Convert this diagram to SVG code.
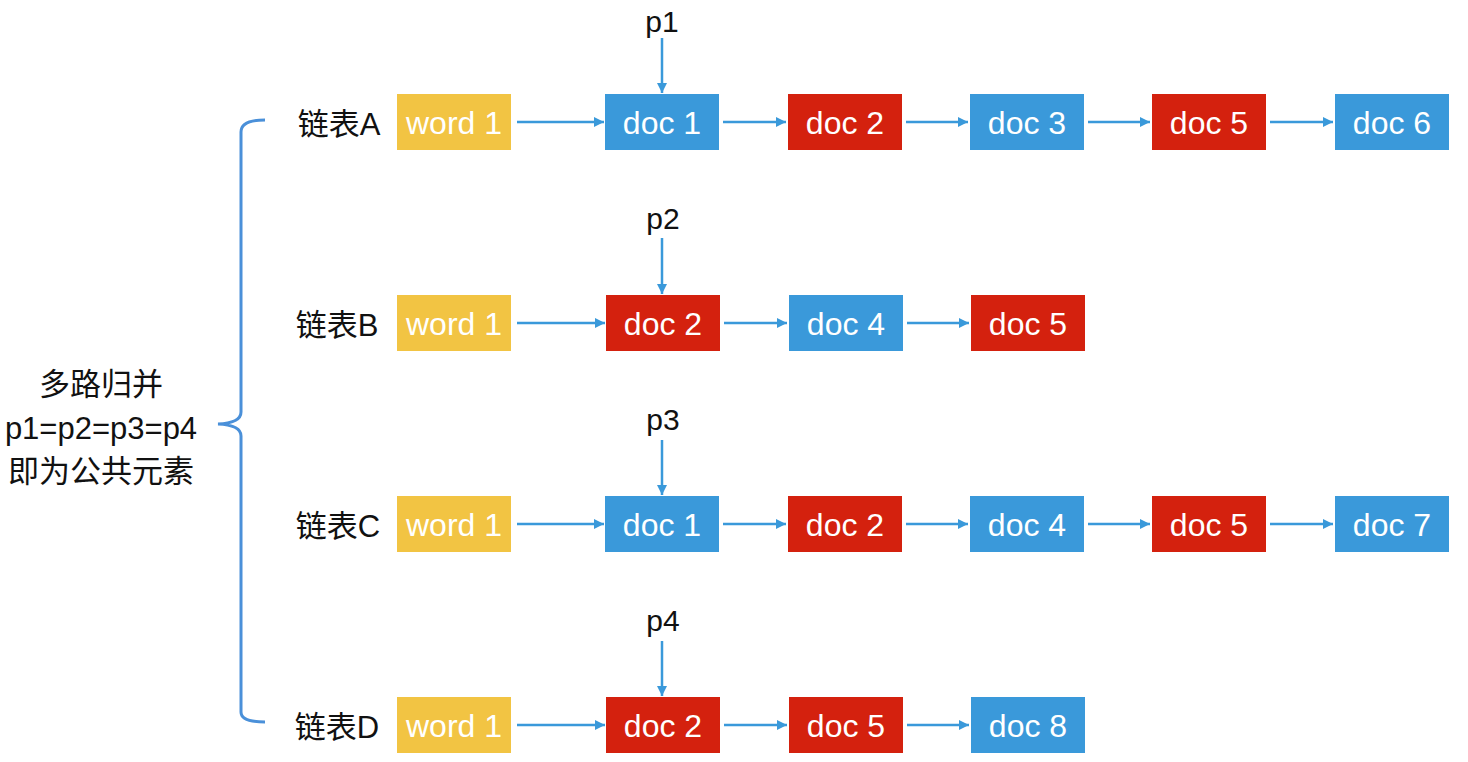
<svg xmlns="http://www.w3.org/2000/svg" width="1468" height="762" viewBox="0 0 1468 762">
<defs>
<marker id="ah" viewBox="0 0 10 10" refX="10" refY="5" markerWidth="10" markerHeight="10" markerUnits="userSpaceOnUse" orient="auto">
<path d="M0,0 L10,5 L0,10 Z" fill="#3A99DA"/>
</marker>
<style>
.y{fill:#F2C443}
.b{fill:#3A99DA}
.r{fill:#D4210E}
.t{font-family:"Liberation Sans","Noto Sans CJK SC",sans-serif;font-size:32px;fill:#fff;text-anchor:middle}
.k{font-family:"Liberation Sans","Noto Sans CJK SC",sans-serif;font-size:30px;fill:#111;text-anchor:middle}
.s{font-family:"Liberation Sans","Noto Sans CJK SC",sans-serif;font-size:31px;fill:#111;text-anchor:middle}
.c line{stroke:#3A99DA;stroke-width:2.5;marker-end:url(#ah)}
</style>
</defs>
<rect width="1468" height="762" fill="#fff"/>
<g id="brace"><path d="M265,120 Q241,120 241,132 L241,412 Q241,423 218,424 Q241,425 241,436 L241,712 Q241,722 265,722" fill="none" stroke="#4A90D9" stroke-width="3"/></g>
<g id="summary">
<text class="s" x="101" y="395">多路归并</text>
<text class="s" x="101" y="439">p1=p2=p3=p4</text>
<text class="s" x="101" y="482">即为公共元素</text>
</g>
<g id="labels">
<text class="s" x="339" y="135">链表A</text>
<text class="s" x="337" y="336">链表B</text>
<text class="s" x="338" y="537">链表C</text>
<text class="s" x="337" y="738">链表D</text>
<text class="k" x="662" y="32">p1</text>
<text class="k" x="663" y="229">p2</text>
<text class="k" x="663" y="430">p3</text>
<text class="k" x="663" y="631">p4</text>
</g>
<g id="rowA">
<g id="A0"><rect class="y" x="397" y="94" width="114" height="56"/><text class="t" x="454" y="134">word 1</text></g>
<g id="A1"><rect class="b" x="605" y="94" width="114" height="56"/><text class="t" x="662" y="134">doc 1</text></g>
<g id="A2"><rect class="r" x="788" y="94" width="114" height="56"/><text class="t" x="845" y="134">doc 2</text></g>
<g id="A3"><rect class="b" x="970" y="94" width="114" height="56"/><text class="t" x="1027" y="134">doc 3</text></g>
<g id="A4"><rect class="r" x="1152" y="94" width="114" height="56"/><text class="t" x="1209" y="134">doc 5</text></g>
<g id="A5"><rect class="b" x="1335" y="94" width="114" height="56"/><text class="t" x="1392" y="134">doc 6</text></g>
</g>
<g id="rowB">
<g id="B0"><rect class="y" x="397" y="295" width="114" height="56"/><text class="t" x="454" y="335">word 1</text></g>
<g id="B1"><rect class="r" x="606" y="295" width="114" height="56"/><text class="t" x="663" y="335">doc 2</text></g>
<g id="B2"><rect class="b" x="789" y="295" width="114" height="56"/><text class="t" x="846" y="335">doc 4</text></g>
<g id="B3"><rect class="r" x="971" y="295" width="114" height="56"/><text class="t" x="1028" y="335">doc 5</text></g>
</g>
<g id="rowC">
<g id="C0"><rect class="y" x="397" y="496" width="114" height="56"/><text class="t" x="454" y="536">word 1</text></g>
<g id="C1"><rect class="b" x="605" y="496" width="114" height="56"/><text class="t" x="662" y="536">doc 1</text></g>
<g id="C2"><rect class="r" x="788" y="496" width="114" height="56"/><text class="t" x="845" y="536">doc 2</text></g>
<g id="C3"><rect class="b" x="970" y="496" width="114" height="56"/><text class="t" x="1027" y="536">doc 4</text></g>
<g id="C4"><rect class="r" x="1152" y="496" width="114" height="56"/><text class="t" x="1209" y="536">doc 5</text></g>
<g id="C5"><rect class="b" x="1335" y="496" width="114" height="56"/><text class="t" x="1392" y="536">doc 7</text></g>
</g>
<g id="rowD">
<g id="D0"><rect class="y" x="397" y="697" width="114" height="56"/><text class="t" x="454" y="737">word 1</text></g>
<g id="D1"><rect class="r" x="606" y="697" width="114" height="56"/><text class="t" x="663" y="737">doc 2</text></g>
<g id="D2"><rect class="r" x="789" y="697" width="114" height="56"/><text class="t" x="846" y="737">doc 5</text></g>
<g id="D3"><rect class="b" x="971" y="697" width="114" height="56"/><text class="t" x="1028" y="737">doc 8</text></g>
</g>
<g id="connectors" class="c">
<line x1="517" y1="122" x2="604" y2="122"/>
<line x1="723" y1="122" x2="786" y2="122"/>
<line x1="906" y1="122" x2="968" y2="122"/>
<line x1="1088" y1="122" x2="1150" y2="122"/>
<line x1="1270" y1="122" x2="1333" y2="122"/>
<line x1="662" y1="38" x2="662" y2="93"/>
<line x1="517" y1="323" x2="605" y2="323"/>
<line x1="724" y1="323" x2="787" y2="323"/>
<line x1="907" y1="323" x2="969" y2="323"/>
<line x1="662" y1="238" x2="662" y2="294"/>
<line x1="517" y1="524" x2="604" y2="524"/>
<line x1="723" y1="524" x2="786" y2="524"/>
<line x1="906" y1="524" x2="968" y2="524"/>
<line x1="1088" y1="524" x2="1150" y2="524"/>
<line x1="1270" y1="524" x2="1333" y2="524"/>
<line x1="662" y1="440" x2="662" y2="495"/>
<line x1="517" y1="725" x2="605" y2="725"/>
<line x1="724" y1="725" x2="787" y2="725"/>
<line x1="907" y1="725" x2="969" y2="725"/>
<line x1="662" y1="641" x2="662" y2="696"/>
</g>
</svg>
